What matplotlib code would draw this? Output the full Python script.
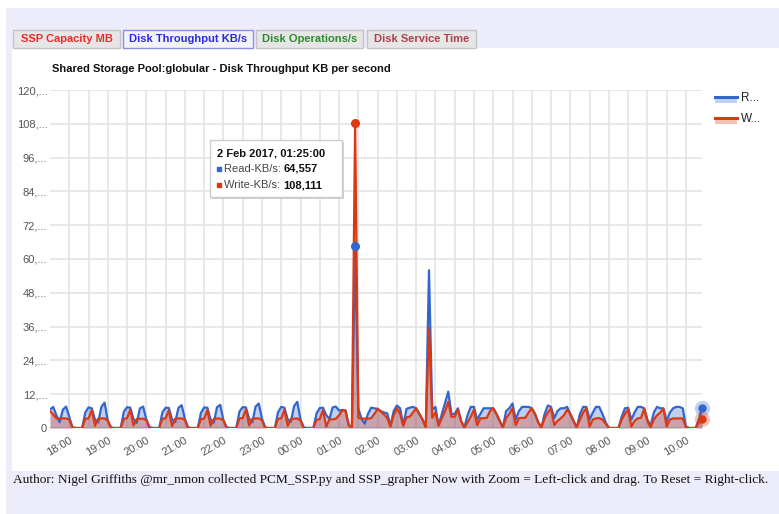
import numpy as np
import matplotlib.pyplot as plt
from matplotlib.patches import Rectangle
from matplotlib.lines import Line2D

plt.rcParams['font.family'] = ['Liberation Sans', 'DejaVu Sans']

W, H = 779, 514

# 5 minute samples, 17:30 (1 Feb 2017) .. 10:25 (2 Feb 2017)
# values in thousands of KB/s, one row per hour
start_hour = 17.5
step_minutes = 5

read_k = [
    6.5, 7.5, 4.5, 2.0, 6.5, 7.6,                                  # 17:30
    4.0, 0.3, 0, 0, 0, 5.5, 7.3, 7.0, 3.0, 2.0, 7.5, 9.0,          # 18
    2.5, 0.2, 0, 0, 0, 5.8, 7.4, 7.2, 3.2, 1.8, 7.0, 7.6,          # 19
    3.0, 0.3, 0, 0, 0, 5.6, 7.2, 7.1, 3.1, 2.1, 7.2, 8.1,          # 20
    3.2, 0.2, 0, 0, 0, 5.4, 7.3, 7.2, 3.0, 1.9, 7.4, 8.2,          # 21
    2.8, 0.3, 0, 0, 0, 5.9, 7.4, 7.3, 3.3, 2.0, 7.6, 8.7,          # 22
    3.3, 0.2, 0, 0, 0, 5.6, 7.5, 7.2, 3.1, 2.2, 7.8, 9.3,          # 23
    3.0, 0.2, 0, 0, 0, 5.2, 7.1, 7.2, 4.6, 3.2, 7.3, 7.6,          # 00
    6.2, 6.4, 6.2, 1.2, 0, 64.557, 7.0, 3.2, 1.5, 5.0, 7.2, 7.0,   # 01
    6.8, 6.0, 5.5, 5.2, 0.8, 6.0, 8.0, 7.0, 1.0, 6.8, 7.2, 7.5,    # 02
    7.0, 5.0, 3.0, 0.3, 56.0, 6.5, 7.5, 1.0, 5.0, 9.0, 12.9, 5.0,  # 03
    5.0, 7.0, 2.5, 0.2, 4.5, 7.5, 7.5, 3.0, 5.0, 7.0, 7.0, 7.0,    # 04
    7.0, 5.0, 2.5, 0.2, 6.0, 7.0, 8.7, 3.0, 6.0, 7.5, 7.5, 7.5,    # 05
    7.0, 5.0, 2.0, 0.2, 5.0, 8.0, 7.5, 3.5, 6.0, 7.0, 7.0, 7.5,    # 06
    5.0, 2.5, 0.2, 5.0, 7.5, 7.5, 3.0, 5.5, 7.5, 7.5, 5.0, 2.0,    # 07
    0, 0, 0, 0, 4.0, 7.0, 7.2, 3.0, 5.5, 7.5, 7.5, 7.0,            # 08
    3.0, 0.8, 5.5, 7.5, 7.0, 7.0, 2.5, 5.5, 7.0, 7.5, 7.5, 7.0,    # 09
    0.5, 0, 0, 0, 3.0, 7.1,                                        # 10
]

write_k = [
    6.0, 4.8, 3.4, 3.4, 3.4, 3.4,                                  # 17:30
    3.0, 0, 0, 0, 0, 3.3, 3.4, 6.4, 0.8, 3.3, 3.4, 3.4,            # 18
    2.6, 0, 0, 0, 0, 3.2, 3.5, 6.5, 0.9, 3.2, 3.3, 3.3,            # 19
    2.8, 0, 0, 0, 0, 3.3, 3.4, 6.3, 0.7, 3.3, 3.4, 3.4,            # 20
    2.9, 0, 0, 0, 0, 3.2, 3.3, 6.4, 0.8, 3.2, 3.4, 3.3,            # 21
    2.7, 0, 0, 0, 0, 3.4, 3.5, 6.6, 0.9, 3.3, 3.4, 3.4,            # 22
    2.8, 0, 0, 0, 0, 3.3, 3.4, 6.5, 0.8, 3.2, 3.3, 3.4,            # 23
    2.7, 0, 0, 0, 0, 2.9, 3.2, 6.4, 0.5, 3.0, 3.1, 3.3,            # 00
    4.5, 6.3, 6.2, 0.9, 0, 108.111, 3.6, 3.4, 3.3, 3.3, 3.5, 5.0,  # 01
    6.8, 5.8, 4.8, 3.5, 0.5, 4.5, 7.0, 5.0, 0.8, 3.8, 4.0, 5.5,    # 02
    7.0, 5.0, 3.0, 0.2, 35.5, 3.6, 5.6, 0.8, 3.5, 6.0, 9.3, 4.0,   # 03
    4.0, 6.5, 2.5, 0.1, 2.0, 4.0, 6.5, 1.0, 3.4, 3.5, 3.6, 6.0,    # 04
    7.0, 5.0, 2.5, 0.2, 3.5, 5.0, 7.0, 1.0, 3.5, 3.6, 3.6, 5.5,    # 05
    7.0, 5.0, 2.0, 0.2, 3.5, 5.5, 7.0, 1.0, 2.5, 3.4, 4.5, 6.5,    # 06
    5.0, 2.5, 0.2, 3.0, 5.5, 7.0, 0.5, 3.0, 3.4, 3.5, 3.0, 1.5,    # 07
    0, 0, 0, 0, 3.0, 5.0, 6.6, 0.5, 2.5, 3.4, 3.6, 6.8,            # 08
    2.5, 0.2, 3.0, 4.5, 5.5, 6.8, 0.5, 3.0, 3.4, 3.4, 3.4, 3.4,    # 09
    0.3, 0, 0, 0, 2.0, 3.2,                                        # 10
]

hour_labels = ['18:00', '19:00', '20:00', '21:00', '22:00', '23:00', '00:00',
               '01:00', '02:00', '03:00', '04:00', '05:00', '06:00', '07:00',
               '08:00', '09:00', '10:00']
y_ticks = [0, 12, 24, 36, 48, 60, 72, 84, 96, 108, 120]
y_labels = ['0', '12,...', '24,...', '36,...', '48,...', '60,...', '72,...',
            '84,...', '96,...', '108,...', '120,...']

buttons = ['SSP Capacity MB', 'Disk Throughput KB/s', 'Disk Operations/s', 'Disk Service Time']
button_colors = ['#f02828', '#2a2ae6', '#2e8b2e', '#b0404c']
series_names = ['Read-KB/s', 'Write-KB/s']
tooltip_title = '2 Feb 2017, 01:25:00'

BLUE = '#3366cc'
RED = '#dc3912'
LAVENDER = '#ececfa'


def fx(x):
    return x / W


def fy(y):
    return 1 - y / H


fig = plt.figure(figsize=(W / 100, H / 100), dpi=100)
fig.patch.set_facecolor('white')

# page background + white chart panel
fig.add_artist(Rectangle((fx(6), 0), 1, fy(8), transform=fig.transFigure,
                         facecolor=LAVENDER, edgecolor='none', zorder=0))
fig.add_artist(Rectangle((fx(12), fy(471)), 1, fy(48) - fy(471), transform=fig.transFigure,
                         facecolor='white', edgecolor='none', zorder=0))

# tab buttons
btn_x = [(13, 120), (123, 253), (256, 363), (367, 476)]
for k, (name, col) in enumerate(zip(buttons, button_colors)):
    x0, x1 = btn_x[k]
    selected = k == 1
    fig.add_artist(Rectangle((fx(x0), fy(48)), fx(x1) - fx(x0), fy(30) - fy(48),
                             transform=fig.transFigure,
                             facecolor='#f2f2f8' if selected else '#e6e6e6',
                             edgecolor='#8c8cf0' if selected else '#c4c4c4', lw=1, zorder=1))
    fig.text(fx((x0 + x1) / 2), fy(39), name, color=col, fontsize=8, fontweight='bold',
             ha='center', va='center')

fig.text(fx(52), fy(69), 'Shared Storage Pool:globular - Disk Throughput KB per second',
         fontsize=8, fontweight='bold', ha='left', va='center', color='#111')

ax = fig.add_axes([fx(50), fy(428), fx(702) - fx(50), fy(90) - fy(428)])
x = start_hour + np.arange(len(read_k)) * step_minutes / 60
read = np.array(read_k)
write = np.array(write_k)

ax.fill_between(x, read, color=BLUE, alpha=0.3, lw=0, zorder=1)
ax.fill_between(x, write, color=RED, alpha=0.3, lw=0, zorder=1)
ax.axhline(0, color='#999999', lw=1.2, zorder=1.5)
ax.plot(x, read, color=BLUE, lw=1.6, zorder=2)
ax.plot(x, write, color=RED, lw=1.6, zorder=2)

# hovered point + last point markers
i = int(np.argmax(write))
ax.plot(x[i], read[i], 'o', color=BLUE, ms=5.5, zorder=3, clip_on=False)
ax.plot(x[i], write[i], 'o', color=RED, ms=5.5, zorder=3, clip_on=False)
for s, c in ((read, BLUE), (write, RED)):
    ax.plot(x[-1], s[-1], 'o', color=c, alpha=0.3, ms=11, mec='none', zorder=3, clip_on=False)
    ax.plot(x[-1], s[-1], 'o', color=c, ms=5, zorder=3, clip_on=False)

ax.set_xlim(x[0], x[-1])
ax.set_ylim(0, 120)
hours = np.arange(18, 18 + len(hour_labels))
ax.set_xticks(hours)
ax.set_xticklabels(hour_labels, rotation=30, ha='right', rotation_mode='anchor')
ax.set_xticks(hours[:-1] + 0.5, minor=True)
ax.set_yticks(y_ticks)
ax.set_yticklabels(y_labels)
ax.grid(which='both', color='#e2e2e2', lw=1.1, zorder=0)
ax.set_axisbelow(True)
ax.tick_params(which='both', length=0, labelsize=8, labelcolor='#555555')
ax.tick_params(axis='y', pad=2)
ax.tick_params(axis='x', pad=5)
for sp in ax.spines.values():
    sp.set_visible(False)

# legend
for k, (name, c) in enumerate(zip(series_names, (BLUE, RED))):
    yy = 97 + k * 21
    fig.add_artist(Rectangle((fx(715), fy(yy + 6)), fx(737) - fx(715), fy(yy) - fy(yy + 6),
                             transform=fig.transFigure, facecolor=c, alpha=0.3,
                             edgecolor='none'))
    fig.add_artist(Line2D([fx(715), fx(737)], [fy(yy), fy(yy)], transform=fig.transFigure,
                          color=c, lw=2.2))
    fig.text(fx(741), fy(yy + 1), name[0] + '...', fontsize=8.5, color='#222222',
             ha='left', va='center')

# tooltip
fig.add_artist(Rectangle((fx(212), fy(199)), fx(344) - fx(212), fy(142) - fy(199),
                         transform=fig.transFigure, facecolor='#d0d0d0', edgecolor='none',
                         zorder=4))
fig.add_artist(Rectangle((fx(210), fy(197)), fx(342) - fx(210), fy(140) - fy(197),
                         transform=fig.transFigure, facecolor='white', edgecolor='#cccccc',
                         lw=1, zorder=5))
fig.text(fx(217), fy(153), tooltip_title, fontsize=8, fontweight='bold', color='#111',
         ha='left', va='center', zorder=6)
renderer = fig.canvas.get_renderer()
for k, (name, c, s) in enumerate(zip(series_names, (BLUE, RED), (read, write))):
    yy = 169 + k * 16
    fig.add_artist(Line2D([fx(219)], [fy(yy)], transform=fig.transFigure, marker='s',
                          ms=3.5, color=c, lw=0, zorder=6))
    lab = fig.text(fx(224), fy(yy + 3), name + ': ', fontsize=8, color='#444',
                   ha='left', va='baseline', zorder=6)
    bb = lab.get_window_extent(renderer)
    fig.text(bb.x1 / fig.bbox.width, fy(yy + 3), f'{s[i] * 1000:,.0f}', fontsize=8,
             fontweight='bold', color='#111', ha='left', va='baseline', zorder=6)

fig.text(fx(13), fy(480),
         'Author: Nigel Griffiths @mr_nmon collected PCM_SSP.py and SSP_grapher Now with Zoom '
         '= Left-click and drag. To Reset = Right-click.',
         fontsize=9.65, family='Liberation Serif', color='#111', ha='left', va='center')

fig.savefig('out.png', dpi=100)
